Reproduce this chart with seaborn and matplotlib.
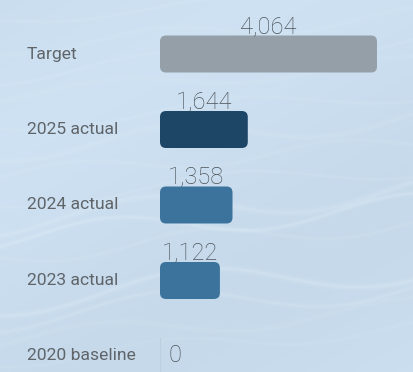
import numpy as np
import pandas as pd
import matplotlib
matplotlib.use("Agg")
import matplotlib.pyplot as plt
from matplotlib.patches import FancyBboxPatch, BoxStyle
import seaborn as sns

# Chart data
categories = ["Target", "2025 actual", "2024 actual", "2023 actual", "2020 baseline"]
values = [4064, 1644, 1358, 1122, 0]
bar_colors = ["#949fa7", "#1c4566", "#3c739d", "#3c739d", "#3c739d"]

W, H, DPI = 414, 372, 100
sns.set_theme(style="white")
plt.rcParams["font.family"] = ["Roboto", "DejaVu Sans"]

fig = plt.figure(figsize=(W / DPI, H / DPI), dpi=DPI)

# Soft blue backdrop with gently curving light streaks
bg_ax = fig.add_axes([0, 0, 1, 1], zorder=0)
yy, xx = np.mgrid[0:H, 0:W].astype(float)
base = np.array([0.790, 0.868, 0.935])
img = np.ones((H, W, 3)) * base
shade = 0.015 * np.sin(xx / 170.0 + yy / 90.0)
img += shade[..., None]
streaks = [
    (20, 6, 300, 0.0, 1.2, 0.08), (48, 8, 260, 0.8, 1.5, 0.06), (75, 10, 320, 1.6, 1.0, 0.09),
    (95, 7, 280, 2.2, 1.8, 0.06), (125, 9, 340, 0.4, 1.2, 0.08), (150, 12, 300, 1.1, 2.0, 0.09),
    (175, 8, 260, 2.9, 1.4, 0.07), (200, 10, 350, 0.6, 1.0, 0.09), (222, 14, 320, 1.9, 2.2, 0.13),
    (238, 12, 300, 2.4, 1.6, 0.15), (255, 10, 280, 0.2, 1.3, 0.08), (300, 16, 360, 1.3, 2.0, 0.15),
    (318, 14, 340, 1.7, 1.5, 0.12), (340, 10, 300, 2.6, 1.8, 0.07), (360, 8, 280, 0.9, 1.2, 0.06),
]
for y0, amp, period, phase, width, strength in streaks:
    yc = y0 - 0.08 * xx + amp * np.sin(2 * np.pi * xx / period + phase)
    mask = np.exp(-((yy - yc) ** 2) / (2 * width ** 2))
    img += strength * mask[..., None] * (1.0 - img)
bg_ax.imshow(np.clip(img, 0, 1), extent=(0, W, H, 0), aspect="auto", interpolation="bilinear")
bg_ax.set_axis_off()

# Bar axes: zero sits at x=160px, rows spaced 75.5px apart
left_px, right_px = 160, 414
px_per_unit_x = 217 / 4064
row_px = 75.5
ax = fig.add_axes([left_px / W, 0, (right_px - left_px) / W, 1], zorder=1)
ax.patch.set_alpha(0)
df = pd.DataFrame({"category": categories, "value": values})
sns.barplot(data=df, x="value", y="category", hue="category", palette=bar_colors,
            orient="h", width=0.49, legend=False, ax=ax, saturation=1)
ax.set_xlim(0, (right_px - left_px) / px_per_unit_x)
ax.set_ylim(4 + (H - 356) / row_px, -54 / row_px)
ax.set_axis_off()

# Swap plain rectangles for rounded ones
radius_px = 6
rx = radius_px / px_per_unit_x
ry = radius_px / row_px
for patch in list(ax.patches):
    x, y = patch.get_x(), patch.get_y()
    w, h = patch.get_width(), patch.get_height()
    color = patch.get_facecolor()
    patch.remove()
    if w > 0:
        ax.add_patch(FancyBboxPatch((x, y), w, h,
                                    boxstyle=BoxStyle.Round(pad=0, rounding_size=rx),
                                    mutation_aspect=ry / rx, facecolor=color,
                                    edgecolor="none", zorder=2))
    else:
        ax.plot([0, 0], [y, y + h], color="#bccfdf", lw=0.8, zorder=2)

# Value labels above bars; a zero value sits beside its row
for i, v in enumerate(values):
    if v > 0:
        ax.annotate(f"{v:,}", xy=(v / 2, i - 0.49 / 2), xytext=(0, 1.5),
                    textcoords="offset points", ha="center", va="baseline",
                    fontsize=17, fontweight="light", color="#4d5358")
    else:
        ax.annotate(f"{v:,}", xy=(0, i), xytext=(6, 0), textcoords="offset points",
                    ha="left", va="center", fontsize=17, fontweight="light",
                    color="#4d5358")

# Category labels on the left
for i, c in enumerate(categories):
    y_px = 54 + i * row_px
    fig.text(27 / W, 1 - y_px / H, c, ha="left", va="center",
             fontsize=12.6, fontweight="normal", color="#5f6469")

fig.savefig("out.png", dpi=DPI)
